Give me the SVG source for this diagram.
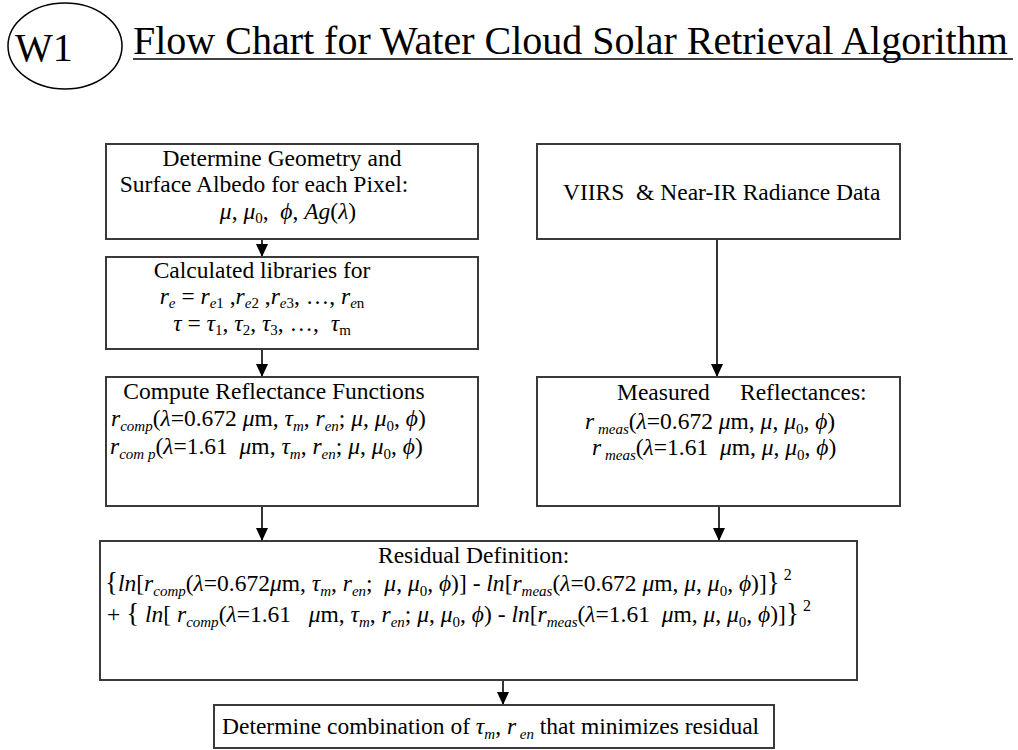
<svg xmlns="http://www.w3.org/2000/svg" width="1018" height="750" viewBox="0 0 1018 750">
<defs>
<style>
.bg{fill:#fff}
.box{fill:#fff;stroke:#3a3a3a;stroke-width:2}
.t{font-family:"Liberation Serif","Times New Roman",serif;font-size:23.5px;fill:#000}
.i{font-style:italic}
.s{font-size:15px}
.title{font-family:"Liberation Serif","Times New Roman",serif;font-size:40px;fill:#000}
.con{stroke:#000;stroke-width:1.6;fill:none}
</style>
<marker id="ad" markerUnits="userSpaceOnUse" markerWidth="12" markerHeight="13" refX="6" refY="13" orient="0" viewBox="0 0 12 13">
<path d="M0,0 L12,0 L6,13 Z" fill="#000"/>
</marker>
</defs>
<rect class="bg" x="0" y="0" width="1018" height="750"/>

<g id="title">
<ellipse cx="65" cy="46" rx="57" ry="43" fill="none" stroke="#000" stroke-width="1.5"/>
<text class="title" x="15" y="61" font-size="50">W1</text>
<text class="title" x="133" y="54">Flow Chart for Water Cloud Solar Retrieval Algorithm</text>
<line x1="133" y1="59" x2="1013" y2="59" stroke="#000" stroke-width="1.5"/>
</g>

<g id="connectors">
<line class="con" x1="262" y1="239" x2="262" y2="257" marker-end="url(#ad)"/>
<line class="con" x1="262" y1="349" x2="262" y2="377" marker-end="url(#ad)"/>
<line class="con" x1="717" y1="239" x2="717" y2="377" marker-end="url(#ad)"/>
<line class="con" x1="262" y1="506" x2="262" y2="541" marker-end="url(#ad)"/>
<line class="con" x1="719" y1="506" x2="719" y2="541" marker-end="url(#ad)"/>
<line class="con" x1="503" y1="680" x2="503" y2="705" marker-end="url(#ad)"/>
</g>

<g id="geometry">
<rect class="box" x="106" y="144" width="372" height="95"/>
<text class="t" x="282" y="166" text-anchor="middle">Determine Geometry and</text>
<text class="t" x="264" y="192" text-anchor="middle">Surface Albedo for each Pixel:</text>
<text class="t" x="288" y="219" text-anchor="middle" xml:space="preserve"><tspan class="i">μ</tspan>, <tspan class="i">μ</tspan><tspan class="s" dy="4">0</tspan><tspan dy="-4">,  </tspan><tspan class="i">ϕ</tspan>, <tspan class="i">Ag</tspan>(<tspan class="i">λ</tspan>)</text>
</g>

<g id="libraries">
<rect class="box" x="106" y="257" width="372" height="92"/>
<text class="t" x="262" y="278" text-anchor="middle">Calculated libraries for</text>
<text class="t" x="262" y="304" text-anchor="middle" xml:space="preserve"><tspan class="i">r</tspan><tspan class="s i" dy="4">e</tspan><tspan dy="-4"> = </tspan><tspan class="i">r</tspan><tspan class="s" dy="4"><tspan class="i">e</tspan>1</tspan><tspan dy="-4"> ,</tspan><tspan class="i">r</tspan><tspan class="s" dy="4"><tspan class="i">e</tspan>2</tspan><tspan dy="-4"> ,</tspan><tspan class="i">r</tspan><tspan class="s" dy="4"><tspan class="i">e</tspan>3</tspan><tspan dy="-4">, …, </tspan><tspan class="i">r</tspan><tspan class="s" dy="4"><tspan class="i">e</tspan>n</tspan></text>
<text class="t" x="262" y="331" text-anchor="middle" xml:space="preserve"><tspan class="i">τ</tspan> = <tspan class="i">τ</tspan><tspan class="s" dy="4">1</tspan><tspan dy="-4">, </tspan><tspan class="i">τ</tspan><tspan class="s" dy="4">2</tspan><tspan dy="-4">, </tspan><tspan class="i">τ</tspan><tspan class="s" dy="4">3</tspan><tspan dy="-4">, …,  </tspan><tspan class="i">τ</tspan><tspan class="s" dy="4">m</tspan></text>
</g>

<g id="compute">
<rect class="box" x="106" y="377" width="372" height="129"/>
<text class="t" x="274" y="399" text-anchor="middle">Compute Reflectance Functions</text>
<text class="t" x="111" y="426" xml:space="preserve"><tspan class="i">r</tspan><tspan class="s i" dy="5">comp</tspan><tspan dy="-5">(</tspan><tspan class="i">λ</tspan>=0.672 <tspan class="i">μ</tspan>m, <tspan class="i">τ</tspan><tspan class="s i" dy="5">m</tspan><tspan dy="-5">, </tspan><tspan class="i">r</tspan><tspan class="s i" dy="5">en</tspan><tspan dy="-5">; </tspan><tspan class="i">μ</tspan>, <tspan class="i">μ</tspan><tspan class="s" dy="5">0</tspan><tspan dy="-5">, </tspan><tspan class="i">ϕ</tspan>)</text>
<text class="t" x="110" y="454" xml:space="preserve"><tspan class="i">r</tspan><tspan class="s i" dy="5">com p</tspan><tspan dy="-5">(</tspan><tspan class="i">λ</tspan>=1.61  <tspan class="i">μ</tspan>m, <tspan class="i">τ</tspan><tspan class="s i" dy="5">m</tspan><tspan dy="-5">, </tspan><tspan class="i">r</tspan><tspan class="s i" dy="5">en</tspan><tspan dy="-5">; </tspan><tspan class="i">μ</tspan>, <tspan class="i">μ</tspan><tspan class="s" dy="5">0</tspan><tspan dy="-5">, </tspan><tspan class="i">ϕ</tspan>)</text>
</g>

<g id="viirs">
<rect class="box" x="537" y="144" width="363" height="95"/>
<text class="t" x="563" y="200" xml:space="preserve">VIIRS  &amp; Near-IR Radiance Data</text>
</g>

<g id="measured">
<rect class="box" x="537" y="377" width="363" height="129"/>
<text class="t" x="617" y="400">Measured</text>
<text class="t" x="740" y="400">Reflectances:</text>
<text class="t" x="585" y="429" xml:space="preserve"><tspan class="i">r</tspan><tspan class="s i" dy="5"> meas</tspan><tspan dy="-5">(</tspan><tspan class="i">λ</tspan>=0.672 <tspan class="i">μ</tspan>m, <tspan class="i">μ</tspan>, <tspan class="i">μ</tspan><tspan class="s" dy="5">0</tspan><tspan dy="-5">, </tspan><tspan class="i">ϕ</tspan>)</text>
<text class="t" x="592" y="455" xml:space="preserve"><tspan class="i">r</tspan><tspan class="s i" dy="5"> meas</tspan><tspan dy="-5">(</tspan><tspan class="i">λ</tspan>=1.61  <tspan class="i">μ</tspan>m, <tspan class="i">μ</tspan>, <tspan class="i">μ</tspan><tspan class="s" dy="5">0</tspan><tspan dy="-5">, </tspan><tspan class="i">ϕ</tspan>)</text>
</g>

<g id="residual">
<rect class="box" x="100" y="541" width="757" height="139"/>
<text class="t" x="378" y="563">Residual Definition:</text>
<text class="t" x="105" y="591" xml:space="preserve"><tspan font-size="27">{</tspan><tspan class="i">ln</tspan>[<tspan class="i">r</tspan><tspan class="s i" dy="5">comp</tspan><tspan dy="-5">(</tspan><tspan class="i">λ</tspan>=0.672<tspan class="i">μ</tspan>m, <tspan class="i">τ</tspan><tspan class="s i" dy="5">m</tspan><tspan dy="-5">, </tspan><tspan class="i">r</tspan><tspan class="s i" dy="5">en</tspan><tspan dy="-5">;  </tspan><tspan class="i">μ</tspan>, <tspan class="i">μ</tspan><tspan class="s" dy="5">0</tspan><tspan dy="-5">, </tspan><tspan class="i">ϕ</tspan>)] - <tspan class="i">ln</tspan>[<tspan class="i">r</tspan><tspan class="s i" dy="5">meas</tspan><tspan dy="-5">(</tspan><tspan class="i">λ</tspan>=0.672 <tspan class="i">μ</tspan>m, <tspan class="i">μ</tspan>, <tspan class="i">μ</tspan><tspan class="s" dy="5">0</tspan><tspan dy="-5">, </tspan><tspan class="i">ϕ</tspan>)]<tspan font-size="27">}</tspan><tspan font-size="16" dx="4" dy="-11">2</tspan></text>
<text class="t" x="107" y="622" xml:space="preserve">+ <tspan font-size="27">{</tspan> <tspan class="i">ln</tspan>[ <tspan class="i">r</tspan><tspan class="s i" dy="5">comp</tspan><tspan dy="-5">(</tspan><tspan class="i">λ</tspan>=1.61   <tspan class="i">μ</tspan>m, <tspan class="i">τ</tspan><tspan class="s i" dy="5">m</tspan><tspan dy="-5">, </tspan><tspan class="i">r</tspan><tspan class="s i" dy="5">en</tspan><tspan dy="-5">; </tspan><tspan class="i">μ</tspan>, <tspan class="i">μ</tspan><tspan class="s" dy="5">0</tspan><tspan dy="-5">, </tspan><tspan class="i">ϕ</tspan>) - <tspan class="i">ln</tspan>[<tspan class="i">r</tspan><tspan class="s i" dy="5">meas</tspan><tspan dy="-5">(</tspan><tspan class="i">λ</tspan>=1.61  <tspan class="i">μ</tspan>m, <tspan class="i">μ</tspan>, <tspan class="i">μ</tspan><tspan class="s" dy="5">0</tspan><tspan dy="-5">, </tspan><tspan class="i">ϕ</tspan>)]<tspan font-size="27">}</tspan><tspan font-size="16" dx="4" dy="-11">2</tspan></text>
</g>

<g id="minimize">
<rect class="box" x="214" y="705" width="560" height="43"/>
<text class="t" x="222" y="734" xml:space="preserve">Determine combination of <tspan class="i">τ</tspan><tspan class="s i" dy="5">m</tspan><tspan dy="-5">, </tspan><tspan class="i">r</tspan><tspan class="s i" dy="5"> en</tspan><tspan dy="-5"> that minimizes residual</tspan></text>
</g>
</svg>
